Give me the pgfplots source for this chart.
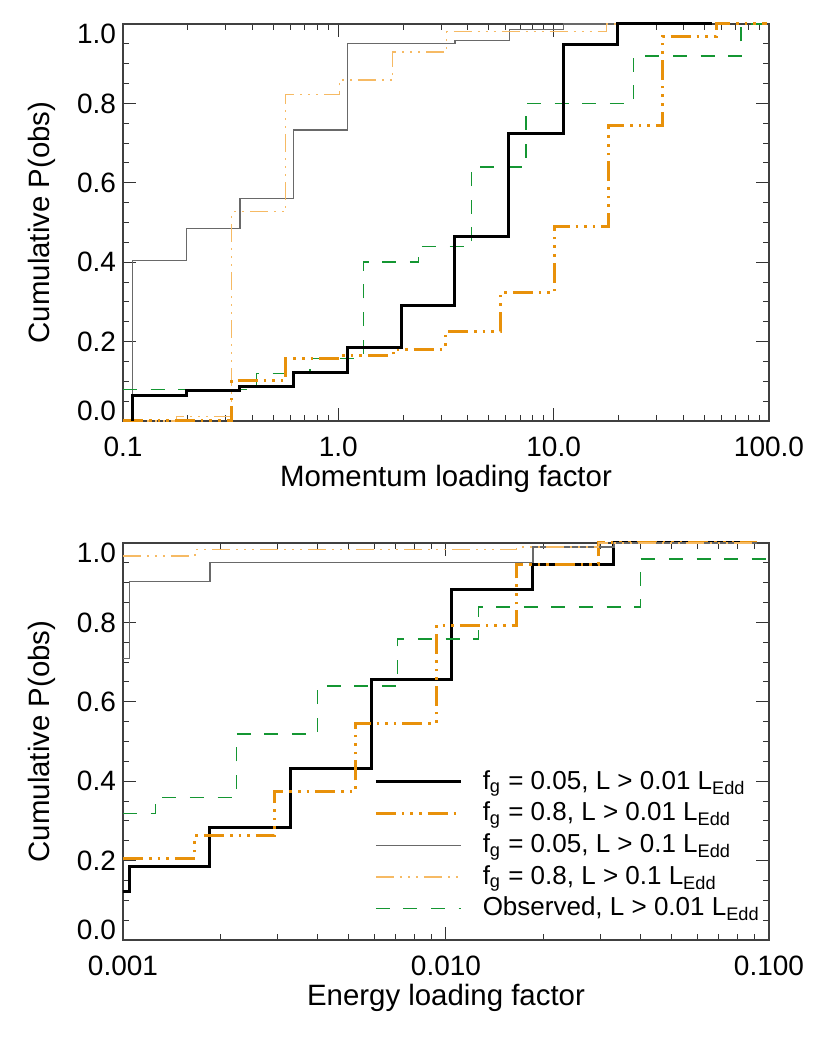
\documentclass[border=0pt]{standalone}
\usepackage{fontspec}
\setmainfont{Liberation Sans}
\usepackage{pgfplots}
\pgfplotsset{compat=1.18}

\definecolor{orA}{RGB}{232,145,10}
\definecolor{orB}{RGB}{246,186,100}
\definecolor{grA}{RGB}{20,150,50}
\definecolor{gyA}{RGB}{105,105,105}

\pgfplotsset{
  cdf/.style={
    scale only axis, width=323pt, height=198.5pt,
    clip=false,
    ymin=0, ymax=1,
    ytick={0,0.2,0.4,0.6,0.8,1},
    yticklabels={\raisebox{5pt}[0.7em][0pt]{0.0},0.2,0.4,0.6,0.8,\raisebox{-5pt}[0.7em][0pt]{1.0}},
    minor y tick num=3,
    major tick length=6.5pt, minor tick length=3pt,
    axis line style={black!75, line width=0.55pt},
    tick style={black!80, line width=0.5pt},
    tick label style={font=\fontsize{14}{16}\selectfont},
    xticklabel style={yshift=-4.5pt},
    label style={font=\fontsize{14.7}{17}\selectfont},
    /pgf/number format/assume math mode=true,
    ylabel={Cumulative P(obs)},
    ylabel style={at={(axis description cs:-0.1254,0.5)}, anchor=center},
    xlabel style={at={(axis description cs:0.5,-0.146)}, anchor=center},
  },
  thk/.style={black, line width=1.5pt, const plot},
  oth/.style={orA, line width=1.5pt, const plot,
    dash pattern=on 10pt off 3pt on 1.3pt off 3pt on 1.3pt off 3pt on 1.3pt off 3pt},
  thn/.style={gyA, line width=0.6pt, const plot},
  otn/.style={orB, line width=0.7pt, const plot,
    dash pattern=on 9pt off 3pt on 1pt off 3pt on 1pt off 3pt on 1pt off 3pt},
  obs/.style={grA, line width=0.7pt, const plot, dash pattern=on 7pt off 6.8pt},
}

\begin{document}
\begin{tikzpicture}
\path[use as bounding box] (-61.5pt,-49pt) rectangle (353.5pt,470pt);

% momentum loading
\begin{semilogxaxis}[cdf, at={(0pt,259.5pt)}, anchor=south west,
  xmin=0.1, xmax=100,
  xtick={0.1,1,10,100}, xticklabels={0.1,1.0,10.0,100.0},
  minor xtick={0.2,0.3,0.4,0.5,0.6,0.7,0.8,0.9,2,3,4,5,6,7,8,9,20,30,40,50,60,70,80,90},
  xlabel={Momentum loading factor}]
\addplot[thn] coordinates {(0.1105,0) (0.1105,0.404) (0.197,0.485) (0.3494,0.561) (0.618,0.733) (1.106,0.951) (3.48,0.959) (6.22,0.987) (11.09,1.0) (54.4,1.0)};
\addplot[otn] coordinates {(0.1,0) (0.1776,0.012) (0.3198,0.527) (0.5697,0.823) (1.0104,0.859) (1.788,0.929) (3.186,0.981) (17.63,1.0) (56.75,1.0)};
\addplot[obs] coordinates {(0.1,0.0798) (0.4178,0.120) (0.7386,0.158) (1.306,0.400) (2.352,0.439) (4.163,0.640) (7.44,0.800) (23.43,0.919) (74.1,1.0) (100,1.0)};
\addplot[oth] coordinates {(0.1,0) (0.3198,0.103) (0.5697,0.158) (1.018,0.166) (1.800,0.181) (3.129,0.225) (5.634,0.323) (10.07,0.491) (17.94,0.745) (31.97,0.969) (56.75,1.0) (98,1.0)};
\addplot[thk] coordinates {(0.1105,0) (0.1105,0.063) (0.197,0.0756) (0.3494,0.088) (0.618,0.121) (1.106,0.185) (1.969,0.292) (3.48,0.464) (6.20,0.725) (11.09,0.948) (19.75,1.0) (54.4,1.0)};
\end{semilogxaxis}

% energy loading
\begin{semilogxaxis}[cdf, at={(0pt,0pt)}, anchor=south west,
  xmin=0.001, xmax=0.1,
  xtick={0.001,0.01,0.1}, xticklabels={0.001,0.010,0.100},
  minor xtick={0.002,0.003,0.004,0.005,0.006,0.007,0.008,0.009,0.02,0.03,0.04,0.05,0.06,0.07,0.08,0.09},
  xlabel={Energy loading factor},
  legend cell align=left,
  legend image code/.code={\draw[#1] (0pt,0pt) -- (42.7pt,0pt);},
  legend style={draw=none, fill=none, at={(axis description cs:0.3885,0.439)},
    anchor=north west, inner sep=0pt, column sep=10pt,
    nodes={inner sep=0pt, text height=11.5pt, text depth=4.35pt,
      font=\fontsize{13}{15}\selectfont}}]
\addplot[thk] coordinates {(0.001,0.122) (0.001046,0.186) (0.001859,0.284) (0.003305,0.432) (0.005888,0.657) (0.01041,0.884) (0.01859,0.945) (0.03312,1.0) (0.0916,1.0)};
\addlegendentry{f\textsubscript{g} = 0.05, L > 0.01 L\textsubscript{Edd}}
\addplot[oth] coordinates {(0.001,0.206) (0.00167,0.263) (0.002955,0.374) (0.005265,0.546) (0.00936,0.793) (0.01655,0.945) (0.02961,1.0) (0.0916,1.0)};
\addlegendentry{f\textsubscript{g} = 0.8, L > 0.01 L\textsubscript{Edd}}
\addplot[thn] coordinates {(0.001,0.709) (0.001046,0.903) (0.001859,0.951) (0.01859,0.99) (0.03312,1.0) (0.0916,1.0)};
\addlegendentry{f\textsubscript{g} = 0.05, L > 0.1 L\textsubscript{Edd}}
\addplot[otn] coordinates {(0.001,0.967) (0.00167,0.984) (0.01655,0.99) (0.02961,1.0) (0.0916,1.0)};
\addlegendentry{f\textsubscript{g} = 0.8, L > 0.1 L\textsubscript{Edd}}
\addplot[obs] coordinates {(0.001,0.319) (0.001262,0.359) (0.002249,0.519) (0.003996,0.640) (0.007087,0.758) (0.01259,0.839) (0.04007,0.960) (0.1,0.960)};
\addlegendentry{Observed, L > 0.01 L\textsubscript{Edd}}
\end{semilogxaxis}
\end{tikzpicture}
\end{document}
